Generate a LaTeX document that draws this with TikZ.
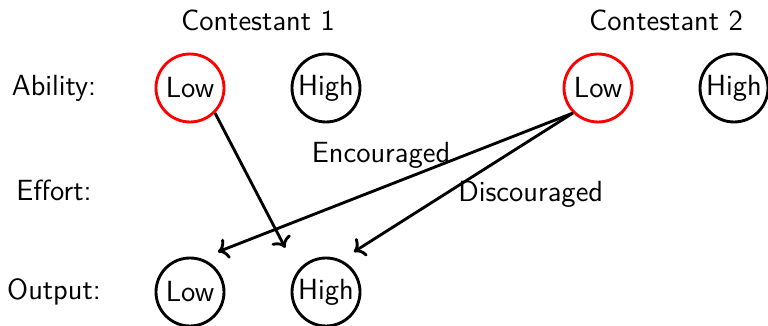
\documentclass[tikz,border=0pt]{standalone}
\usepackage{xcolor}
\usepackage{tikz}
\usetikzlibrary{arrows.meta,positioning,calc}
\definecolor{Ink}{HTML}{000000}
\definecolor{Pick}{HTML}{FF0000}
\tikzset{
  level/.style={draw=Ink,circle,very thick,minimum size=10mm,inner sep=0pt,font=\sffamily\fontsize{12.2}{14}\selectfont},
  chosen/.style={level,draw=Pick},
  rowlabel/.style={font=\sffamily\fontsize{12.2}{14}\selectfont,text=Ink},
  link/.style={->,very thick,color=Ink}
}
\begin{document}
\begin{tikzpicture}
  \useasboundingbox (-2.794,-0.5) rectangle (8.5,4.294);
  \node[rowlabel] (contA) at (1,4) {Contestant 1};
  \node[rowlabel] (contB) at (7,4) {Contestant 2};
  \node[rowlabel] (ability) at (-2,3) {Ability:};
  \node[rowlabel] (effort) at (-2,1.5) {Effort:};
  \node[rowlabel] (output) at (-2,0) {Output:};
  \node[chosen] (lowA) at (0,3) {Low};
  \node[level] (highA) at (2,3) {High};
  \node[chosen] (lowB) at (6,3) {Low};
  \node[level] (highB) at (8,3) {High};
  \node[level] (outlow) at (0,0) {Low};
  \node[level] (outhigh) at (2,0) {High};
  \coordinate (tiplow) at ($(outlow)+(0.41,0.59)$);
  \coordinate (tiphighA) at ($(outhigh)+(-0.6,0.65)$);
  \coordinate (tiphighB) at ($(outhigh)+(0.41,0.59)$);
  \draw[link] (lowA.south east) -- (tiphighA);
  \draw[link] (lowB.south west) -- (tiplow);
  \draw[link] (lowB.south west) -- (tiphighB);
  \node[rowlabel] (enc) at (2.81,2.01) {Encouraged};
  \node[rowlabel] (disc) at (5.01,1.43) {Discouraged};
\end{tikzpicture}
\end{document}
